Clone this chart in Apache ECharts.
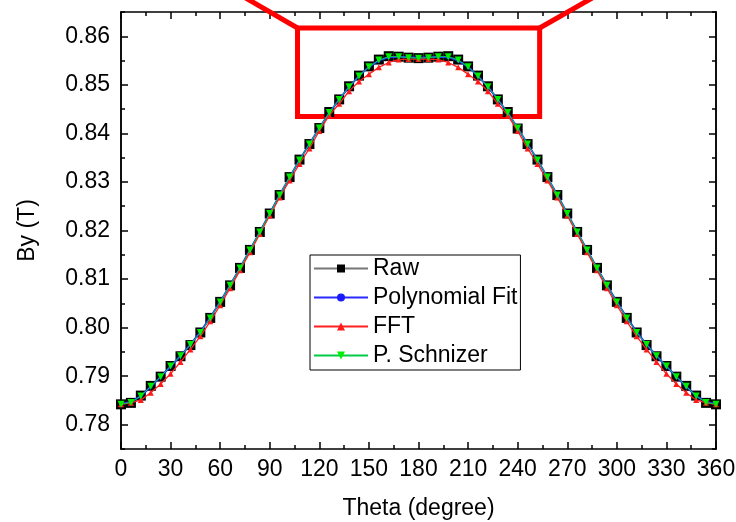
<!DOCTYPE html>
<html>
<head>
<meta charset="utf-8">
<script src="https://cdn.jsdelivr.net/npm/echarts@6/dist/echarts.min.js"></script>
<style>html,body{margin:0;padding:0;background:#fff}#c{width:736px;height:522px}</style>
</head>
<body>
<div id="c"></div>
<script>
var theta = [0,6,12,18,24,30,36,42,48,54,60,66,72,78,84,90,96,102,108,114,120,126,132,138,144,150,156,162,168,174,180,186,192,198,204,210,216,222,228,234,240,246,252,258,264,270,276,282,288,294,300,306,312,318,324,330,336,342,348,354,360];
var rawBy = [0.7842,0.7845,0.7860,0.7880,0.7899,0.7921,0.7941,0.7964,0.7990,0.8020,0.8053,0.8087,0.8123,0.8160,0.8197,0.8235,0.8273,0.8310,0.8346,0.8378,0.8411,0.8444,0.8470,0.8497,0.8519,0.8538,0.8552,0.8559,0.8558,0.8556,0.8555,0.8556,0.8558,0.8559,0.8552,0.8538,0.8519,0.8497,0.8470,0.8444,0.8410,0.8378,0.8346,0.8310,0.8273,0.8235,0.8197,0.8160,0.8123,0.8087,0.8053,0.8020,0.7990,0.7964,0.7941,0.7921,0.7899,0.7880,0.7860,0.7845,0.7842];
var polyBy = [0.7843,0.7847,0.7859,0.7878,0.7899,0.7920,0.7942,0.7965,0.7991,0.8021,0.8053,0.8087,0.8123,0.8160,0.8197,0.8235,0.8273,0.8309,0.8345,0.8378,0.8411,0.8442,0.8470,0.8496,0.8518,0.8537,0.8550,0.8557,0.8558,0.8557,0.8556,0.8557,0.8558,0.8557,0.8550,0.8537,0.8518,0.8496,0.8470,0.8442,0.8411,0.8378,0.8345,0.8309,0.8273,0.8235,0.8197,0.8160,0.8123,0.8087,0.8053,0.8021,0.7991,0.7965,0.7942,0.7920,0.7899,0.7878,0.7859,0.7847,0.7843];
var fftBy = [0.7842,0.7845,0.7851,0.7866,0.7884,0.7905,0.7929,0.7955,0.7982,0.8013,0.8046,0.8081,0.8118,0.8155,0.8193,0.8231,0.8268,0.8303,0.8337,0.8369,0.8405,0.8437,0.8461,0.8487,0.8507,0.8522,0.8536,0.8546,0.8552,0.8553,0.8553,0.8553,0.8552,0.8546,0.8536,0.8522,0.8507,0.8487,0.8461,0.8437,0.8405,0.8369,0.8337,0.8303,0.8268,0.8231,0.8193,0.8155,0.8118,0.8081,0.8046,0.8013,0.7982,0.7955,0.7929,0.7905,0.7884,0.7866,0.7851,0.7845,0.7842];
var schnizerBy = [0.7842,0.7846,0.7859,0.7879,0.7899,0.7921,0.7942,0.7965,0.7990,0.8020,0.8053,0.8087,0.8123,0.8160,0.8197,0.8235,0.8273,0.8310,0.8345,0.8378,0.8411,0.8443,0.8470,0.8496,0.8518,0.8537,0.8551,0.8558,0.8558,0.8556,0.8555,0.8556,0.8558,0.8558,0.8551,0.8537,0.8518,0.8496,0.8470,0.8443,0.8411,0.8378,0.8345,0.8310,0.8273,0.8235,0.8197,0.8160,0.8123,0.8087,0.8053,0.8020,0.7990,0.7965,0.7942,0.7921,0.7899,0.7879,0.7859,0.7846,0.7842];
var seriesNames = ['Raw','Polynomial Fit','FFT','P. Schnizer'];
var yMajor = [0.78,0.79,0.80,0.81,0.82,0.83,0.84,0.85,0.86];
var yMinor = [0.775,0.785,0.795,0.805,0.815,0.825,0.835,0.845,0.855,0.865];
var zoomBox = [[106.8,0.8617],[253.3,0.8435]];

var FONT = 'Liberation Sans, Arial, sans-serif';
var FS = 23;
function pairs(ys){ return theta.map(function(t,i){return [t, ys[i]];}); }

var chart = echarts.init(document.getElementById('c'), null, {renderer:'canvas'});
var axisLine = {show:true, lineStyle:{color:'#000', width:1.5}};
function xAx(pos, labels){
  return {type:'value', position:pos, min:0, max:360, interval:30,
    axisLine:axisLine, splitLine:{show:false},
    axisTick:{show:true, inside:true, length:7, lineStyle:{color:'#000',width:1.5}},
    minorTick:{show:true, splitNumber:2, length:4, lineStyle:{color:'#000',width:1.5}},
    axisLabel:{show:labels, fontSize:FS, color:'#000', fontFamily:FONT, margin:9},
    name: labels ? 'Theta (degree)' : '', nameLocation:'middle', nameGap:48,
    nameTextStyle:{fontSize:FS, color:'#000', fontFamily:FONT}};
}
function yAx(pos, vals, len, labels, name){
  return {type:'value', position:pos, min:0.775, max:0.865, interval:0.005,
    axisLine:axisLine, splitLine:{show:false},
    axisTick:{show:true, inside:true, length:len, customValues:vals, lineStyle:{color:'#000',width:1.5}},
    axisLabel:{show:labels, customValues:yMajor, fontSize:FS, color:'#000', fontFamily:FONT, margin:11,
      formatter:function(v){return v.toFixed(2);}},
    name: name || '', nameLocation:'middle', nameGap:82, nameRotate:90,
    nameTextStyle:{fontSize:FS, color:'#000', fontFamily:FONT}};
}
var option = {
  animation:false,
  backgroundColor:'#fff',
  grid:{left:121, right:20, top:12, bottom:73, containLabel:false, outerBoundsMode:'none'},
  xAxis:[xAx('bottom', true), xAx('top', false)],
  yAxis:[yAx('left', yMajor, 7, true, 'By (T)'), yAx('left', yMinor, 4, false), yAx('right', yMajor, 7, false), yAx('right', yMinor, 4, false)],
  legend:{orient:'vertical', left:310, top:255, borderColor:'#000', borderWidth:1,
    padding:[2,3,3,3], itemGap:6, itemWidth:54, itemHeight:10,
    textStyle:{fontSize:FS, color:'#000', fontFamily:FONT}, data:seriesNames},
  series:[
    {name:seriesNames[0], type:'line', data:pairs(rawBy), symbol:'rect', symbolSize:10,
      itemStyle:{color:'#000'}, lineStyle:{color:'#777', width:1}, z:2},
    {name:seriesNames[1], type:'line', data:pairs(polyBy), symbol:'circle', symbolSize:4,
      itemStyle:{color:'#1a1aff'}, lineStyle:{color:'#2a2aff', width:2}, z:3},
    {name:seriesNames[2], type:'line', data:pairs(fftBy), symbol:'triangle', symbolSize:6,
      itemStyle:{color:'#ff1a1a'}, lineStyle:{color:'#ff2020', width:1.3}, z:4,
      markArea:{silent:true, itemStyle:{color:'rgba(0,0,0,0)', borderColor:'#ff0000', borderWidth:5},
        data:[[{coord:zoomBox[0]},{coord:zoomBox[1]}]]}},
    {name:seriesNames[3], type:'line', data:pairs(schnizerBy), symbol:'triangle', symbolRotate:180, symbolSize:7,
      itemStyle:{color:'#00ee00'}, lineStyle:{color:'#00cc44', width:1}, z:5}
  ]
};
chart.setOption(option);
var tl = chart.convertToPixel({gridIndex:0}, zoomBox[0]);
var br = chart.convertToPixel({gridIndex:0}, zoomBox[1]);
chart.setOption({graphic:[
  {type:'line', shape:{x1:tl[0], y1:tl[1], x2:tl[0]-69, y2:tl[1]-40}, style:{stroke:'#ff0000', lineWidth:5}, z:100},
  {type:'line', shape:{x1:br[0], y1:tl[1], x2:br[0]+70, y2:tl[1]-40}, style:{stroke:'#ff0000', lineWidth:5}, z:100}
]});
</script>
</body>
</html>
